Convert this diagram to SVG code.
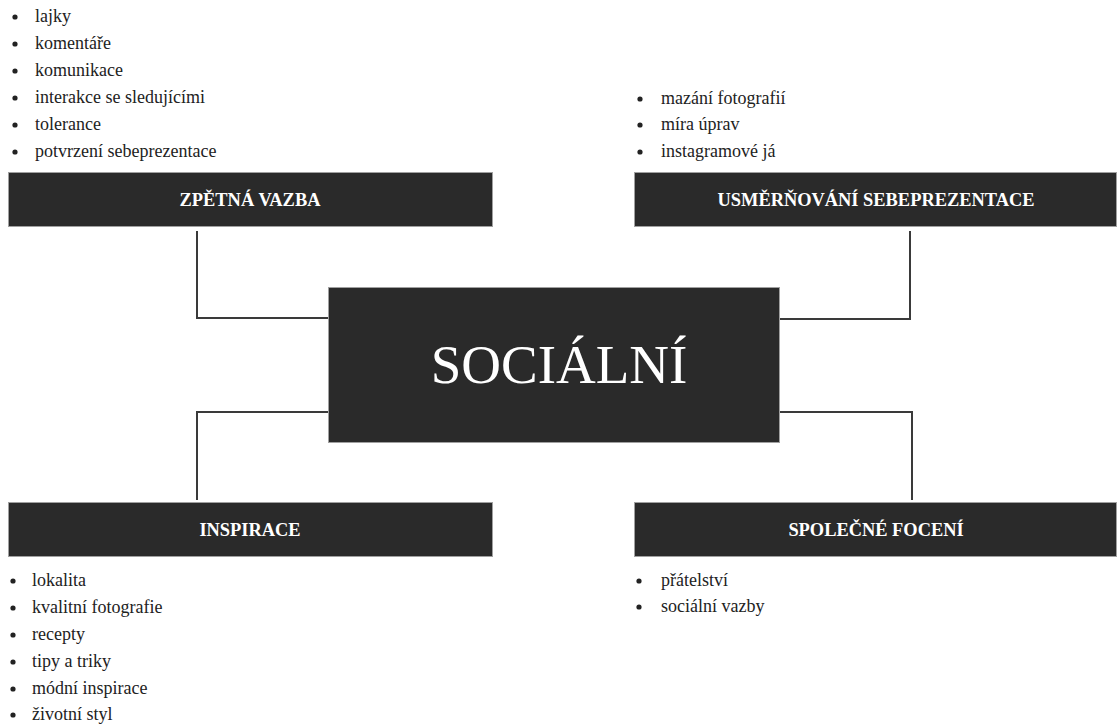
<svg xmlns="http://www.w3.org/2000/svg" width="1117" height="724" viewBox="0 0 1117 724">
<style>
.box{fill:#2a2a2a;stroke:#a0a0a0;stroke-width:1}
.hd{font-family:"Liberation Serif","Times New Roman",serif;font-weight:bold;font-size:18.4px;fill:#ffffff;text-anchor:middle}
.main{font-family:"Liberation Serif","Times New Roman",serif;font-size:55px;fill:#ffffff;text-anchor:middle}
.item{font-family:"Liberation Serif","Times New Roman",serif;font-size:18px;fill:#222222}
.bu{fill:#222222}
.con{fill:none;stroke:#3a3a3a;stroke-width:2}
</style>
<rect width="1117" height="724" fill="#ffffff"/>
<g id="connectors">
<polyline class="con" points="197,231 197,318 328,318"/>
<polyline class="con" points="910,231 910,319 780,319"/>
<polyline class="con" points="328,412 197,412 197,500"/>
<polyline class="con" points="780,412 912,412 912,500"/>
</g>
<g id="center">
<rect class="box" x="328.5" y="287.5" width="451" height="155"/>
<text class="main" x="559" y="383">SOCIÁLNÍ</text>
</g>
<g id="zpetna-vazba">
<rect class="box" x="8.5" y="172.5" width="484" height="54"/>
<text class="hd" x="250" y="206">ZPĚTNÁ VAZBA</text>
<text class="item" x="35" y="22">lajky</text>
<text class="item" x="35" y="49">komentáře</text>
<text class="item" x="35" y="76">komunikace</text>
<text class="item" x="35" y="103">interakce se sledujícími</text>
<text class="item" x="35" y="130">tolerance</text>
<text class="item" x="35" y="157">potvrzení sebeprezentace</text>
<g class="bu">
<circle cx="15" cy="17" r="2.6"/><circle cx="15" cy="44" r="2.6"/><circle cx="15" cy="71" r="2.6"/>
<circle cx="15" cy="98" r="2.6"/><circle cx="15" cy="125" r="2.6"/><circle cx="15" cy="152" r="2.6"/>
</g>
</g>
<g id="usmernovani">
<rect class="box" x="634.5" y="172.5" width="482" height="54"/>
<text class="hd" x="876" y="206">USMĚRŇOVÁNÍ SEBEPREZENTACE</text>
<text class="item" x="661" y="104">mazání fotografií</text>
<text class="item" x="661" y="130">míra úprav</text>
<text class="item" x="661" y="157">instagramové já</text>
<g class="bu">
<circle cx="640" cy="99" r="2.6"/><circle cx="640" cy="125" r="2.6"/><circle cx="640" cy="152" r="2.6"/>
</g>
</g>
<g id="inspirace">
<rect class="box" x="8.5" y="502.5" width="484" height="54"/>
<text class="hd" x="250" y="536">INSPIRACE</text>
<text class="item" x="32" y="586">lokalita</text>
<text class="item" x="32" y="613">kvalitní fotografie</text>
<text class="item" x="32" y="640">recepty</text>
<text class="item" x="32" y="667">tipy a triky</text>
<text class="item" x="32" y="694">módní inspirace</text>
<text class="item" x="32" y="720">životní styl</text>
<g class="bu">
<circle cx="13" cy="581" r="2.6"/><circle cx="13" cy="608" r="2.6"/><circle cx="13" cy="635" r="2.6"/>
<circle cx="13" cy="662" r="2.6"/><circle cx="13" cy="689" r="2.6"/><circle cx="13" cy="715" r="2.6"/>
</g>
</g>
<g id="spolecne-foceni">
<rect class="box" x="634.5" y="502.5" width="482" height="54"/>
<text class="hd" x="876" y="536">SPOLEČNÉ FOCENÍ</text>
<text class="item" x="661" y="586">přátelství</text>
<text class="item" x="661" y="612">sociální vazby</text>
<g class="bu">
<circle cx="639" cy="581" r="2.6"/><circle cx="639" cy="607" r="2.6"/>
</g>
</g>
</svg>
